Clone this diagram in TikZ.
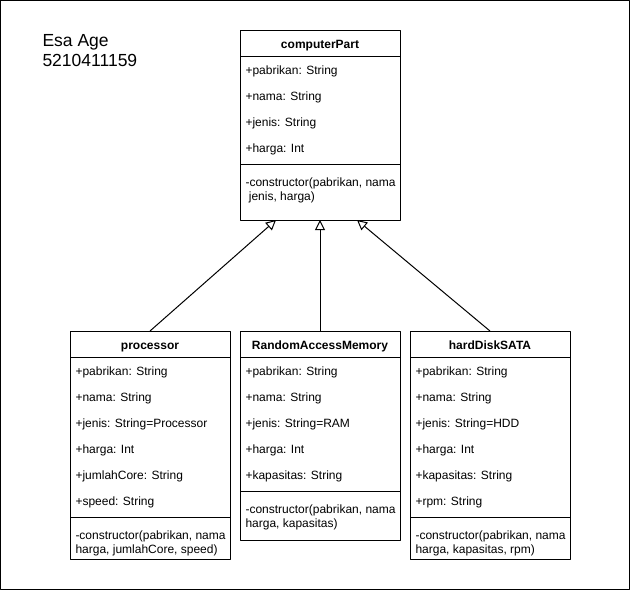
\documentclass[tikz,border=0pt]{standalone}
\usepackage{fontspec}
\setmainfont{Liberation Sans}
\usetikzlibrary{arrows.meta,calc,positioning}

\tikzset{
  classbox/.style={draw, anchor=north west, minimum width=160pt, inner sep=0pt, outer sep=0pt},
  classname/.style={font=\fontsize{12}{14}\selectfont\bfseries, anchor=base, inner sep=0pt},
  attr/.style={anchor=base west, inner sep=0pt},
  method/.style={anchor=north west, align=left, inner sep=0pt},
  inherit/.style={-{Triangle[open, length=10pt, width=10pt]}},
  bigtext/.style={font=\fontsize{17.5}{20}\selectfont},
}

\begin{document}
\begin{tikzpicture}[x=1pt, y=-1pt, font=\fontsize{12}{14}\selectfont, line width=1pt, line join=round]

  \useasboundingbox (0,0) rectangle (631,592);
  \draw (0.5,0.5) rectangle (629.5,589.5);

  % author
  \node[attr, bigtext] (author) at (42,46) {Esa Age};
  \node[attr, bigtext] (nim) at (42,66) {5210411159};

  % class boxes
  \node[classbox, minimum height=190pt] (cp) at (240,30) {};
  \node[classbox, minimum height=228pt] (proc) at (70,331) {};
  \node[classbox, minimum height=209pt] (ram) at (240,331) {};
  \node[classbox, minimum height=228pt] (hdd) at (410,331) {};

  \foreach \c/\t/\s in {cp/computerPart/134, proc/processor/186, ram/RandomAccessMemory/160, hdd/hardDiskSATA/186}{
    \node[classname] (\c-name) at ($(\c.north)+(0,18)$) {\t};
    \draw ($(\c.north west)+(0,26)$) -- ($(\c.north east)+(0,26)$);
    \draw ($(\c.north west)+(0,\s)$) -- ($(\c.north east)+(0,\s)$);
  }

  % attributes
  \foreach \a [count=\i] in {+pabrikan: String, +nama: String, +jenis: String, +harga: Int}
    \node[attr] (cp-a\i) at ($(cp.north west)+(5,{18+26*\i})$) {\a};
  \foreach \a [count=\i] in {+pabrikan: String, +nama: String, +jenis: String=Processor, +harga: Int, +jumlahCore: String, +speed: String}
    \node[attr] (proc-a\i) at ($(proc.north west)+(5,{18+26*\i})$) {\a};
  \foreach \a [count=\i] in {+pabrikan: String, +nama: String, +jenis: String=RAM, +harga: Int, +kapasitas: String}
    \node[attr] (ram-a\i) at ($(ram.north west)+(5,{18+26*\i})$) {\a};
  \foreach \a [count=\i] in {+pabrikan: String, +nama: String, +jenis: String=HDD, +harga: Int, +kapasitas: String, +rpm: String}
    \node[attr] (hdd-a\i) at ($(hdd.north west)+(5,{18+26*\i})$) {\a};

  % methods
  \node[method] (cp-m) at ($(cp.north west)+(5,145.7)$) {\strut-constructor(pabrikan, nama\\\mbox{} jenis, harga)};
  \node[method] (proc-m) at ($(proc.north west)+(5,197.7)$) {\strut-constructor(pabrikan, nama\\harga, jumlahCore, speed)};
  \node[method] (ram-m) at ($(ram.north west)+(5,171.7)$) {\strut-constructor(pabrikan, nama\\harga, kapasitas)};
  \node[method] (hdd-m) at ($(hdd.north west)+(5,197.7)$) {\strut-constructor(pabrikan, nama\\harga, kapasitas, rpm)};

  % generalisation
  \draw[inherit] (proc.north) -- ([xshift=-44pt]cp.south);
  \draw[inherit] (ram.north) -- (cp.south);
  \draw[inherit] (hdd.north) -- ([xshift=37pt]cp.south);

\end{tikzpicture}
\end{document}
